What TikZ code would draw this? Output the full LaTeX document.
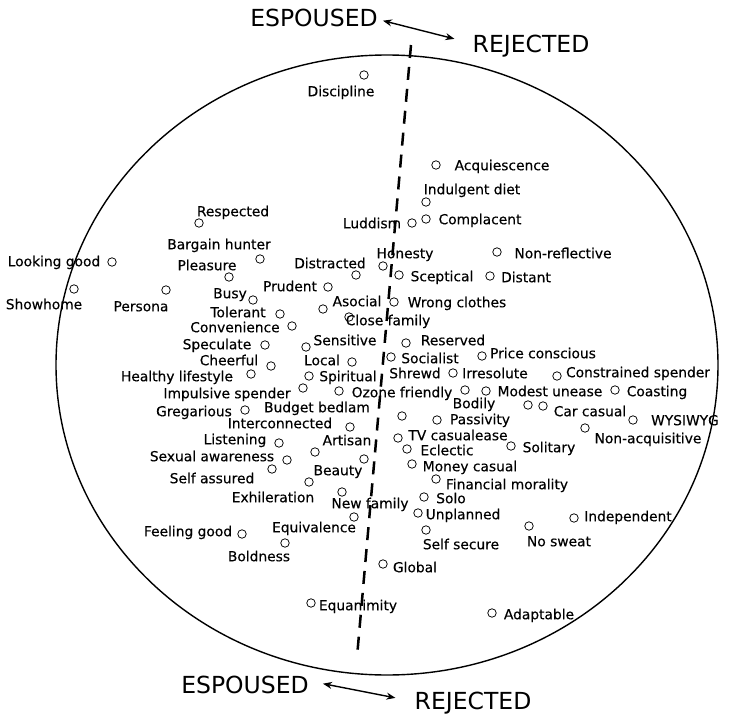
\documentclass[tikz,border=0pt]{standalone}
\usepackage{fontspec}
\setmainfont{DejaVu Sans}
\usetikzlibrary{shapes.geometric,arrows.meta}

% one concept: a small open circle plus its label
\newcommand\idea[4]{%
  \node[dot] (#1c) at (#2) {};
  \node[lbl] (#1) at (#3) {#4};}

\begin{document}
\begin{tikzpicture}[x=1pt,y=-1pt,
  dot/.style={circle,draw,line width=0.75pt,inner sep=0pt,minimum size=8.5pt},
  lbl/.style={inner sep=0pt,anchor=mid,yshift=-2.5pt,font=\fontsize{13.8}{16}\selectfont\addfontfeatures{FakeBold=0.3}},
  head/.style={inner sep=0pt,anchor=mid,yshift=-3.5pt,font=\fontsize{23.5}{27}\selectfont},
  pole/.style={line width=1.4pt,{Stealth[length=9pt,width=7pt]}-{Stealth[length=9pt,width=7pt]}},
  divide/.style={line width=2.5pt,dash pattern=on 13pt off 9pt}]

\fill[white] (0,0) rectangle (732,715);
\useasboundingbox (0,0) rectangle (732,715);

% the field of concepts
\node[ellipse,draw,line width=1.4pt,minimum width=662pt,minimum height=620pt,inner sep=0pt] (field) at (387,365) {};

% dividing line between espoused and rejected
\coordinate (dtop) at (411,45);
\coordinate (dbot) at (357,657);
\draw[divide] (dtop) -- (dbot);

% pole labels, top and bottom
\node[head] (espT) at (314,20) {ESPOUSED};
\node[head] (rejT) at (531,46) {REJECTED};
\draw[pole] ([shift={(5,3)}]espT.east) -- ([shift={(-18,-7)}]rejT.west);
\node[head] (espB) at (245,687) {ESPOUSED};
\node[head] (rejB) at (473,703) {REJECTED};
\draw[pole] ([shift={(14,-1)}]espB.east) -- ([shift={(-19,-5)}]rejB.west);

% concepts
\idea{disc}{364,75}{341,91}{Discipline}
\idea{acq}{436,165}{502,165}{Acquiescence}
\idea{indul}{426,202}{472,189}{Indulgent diet}
\idea{compl}{426,219}{480,219}{Complacent}
\idea{ludd}{412,223}{372,223}{Luddism}
\idea{resp}{199,223}{233,211}{Respected}
\idea{hon}{383,266}{405,253}{Honesty}
\idea{nonref}{497,252}{563,253}{Non-reflective}
\idea{barg}{260,259}{219,244}{Bargain hunter}
\idea{look}{112,262}{54,261}{Looking good}
\idea{pleas}{229,277}{207,265}{Pleasure}
\idea{distr}{356,275}{330,263}{Distracted}
\idea{scept}{399,275}{442,276}{Sceptical}
\idea{dist}{490,276}{526,277}{Distant}
\idea{show}{74,289}{44,304}{Showhome}
\idea{pers}{166,290}{141,306}{Persona}
\idea{busy}{253,300}{230,293}{Busy}
\idea{prud}{328,287}{290,286}{Prudent}
\idea{asoc}{323,309}{357,301}{Asocial}
\idea{wrong}{394,302}{457,302}{Wrong clothes}
\idea{toler}{280,314}{238,312}{Tolerant}
\idea{close}{349,317}{388,320}{Close family}
\idea{conv}{292,326}{235,327}{Convenience}
\idea{sens}{306,347}{345,340}{Sensitive}
\idea{spec}{265,345}{217,344}{Speculate}
\idea{reserv}{406,343}{453,340}{Reserved}
\idea{social}{391,357}{430,358}{Socialist}
\idea{price}{482,356}{543,353}{Price conscious}
\idea{cheer}{271,366}{229,360}{Cheerful}
\idea{local}{352,362}{322,360}{Local}
\idea{health}{251,374}{177,376}{Healthy lifestyle}
\idea{spirit}{309,376}{348,376}{Spiritual}
\node[lbl] (shrewd) at (415,373) {Shrewd};
\idea{irres}{453,373}{495,373}{Irresolute}
\idea{constr}{557,376}{638,372}{Constrained spender}
\idea{impul}{303,388}{227,393}{Impulsive spender}
\idea{ozone}{339,391}{402,392}{Ozone friendly}
\idea{bodily}{465,390}{474,403}{Bodily}
\idea{modest}{486,391}{550,391}{Modest unease}
\idea{coast}{615,390}{657,391}{Coasting}
\idea{greg}{245,410}{194,411}{Gregarious}
\node[lbl] (budget) at (317,407) {Budget bedlam};
\idea{car}{543,406}{590,411}{Car casual}
\node[dot] (carb) at (528,405) {};
\idea{inter}{350,427}{280,423}{Interconnected}
\node[dot] (spare) at (402,416) {};
\idea{pass}{437,420}{480,419}{Passivity}
\idea{wysi}{633,420}{685,420}{WYSIWYG}
\idea{nonacq}{585,428}{648,438}{Non-acquisitive}
\idea{listen}{279,443}{235,439}{Listening}
\idea{artis}{315,452}{347,440}{Artisan}
\idea{tv}{398,438}{458,435}{TV casualease}
\idea{eclec}{407,449}{447,450}{Eclectic}
\idea{solit}{511,446}{549,447}{Solitary}
\idea{sexual}{287,460}{212,456}{Sexual awareness}
\idea{beauty}{364,459}{338,470}{Beauty}
\idea{money}{412,464}{470,466}{Money casual}
\idea{selfas}{272,469}{212,478}{Self assured}
\idea{exhil}{309,482}{273,497}{Exhileration}
\idea{finan}{436,479}{507,484}{Financial morality}
\idea{newfam}{342,492}{370,503}{New family}
\idea{solo}{424,497}{451,498}{Solo}
\idea{unpl}{418,513}{463,514}{Unplanned}
\idea{equiv}{354,517}{314,527}{Equivalence}
\idea{indep}{574,518}{628,516}{Independent}
\idea{nosw}{529,526}{559,541}{No sweat}
\idea{selfsec}{426,530}{461,544}{Self secure}
\idea{feel}{242,534}{188,531}{Feeling good}
\idea{bold}{285,543}{259,556}{Boldness}
\idea{global}{383,564}{415,567}{Global}
\idea{equan}{311,603}{358,605}{Equanimity}
\idea{adapt}{492,613}{539,614}{Adaptable}

\end{tikzpicture}
\end{document}
